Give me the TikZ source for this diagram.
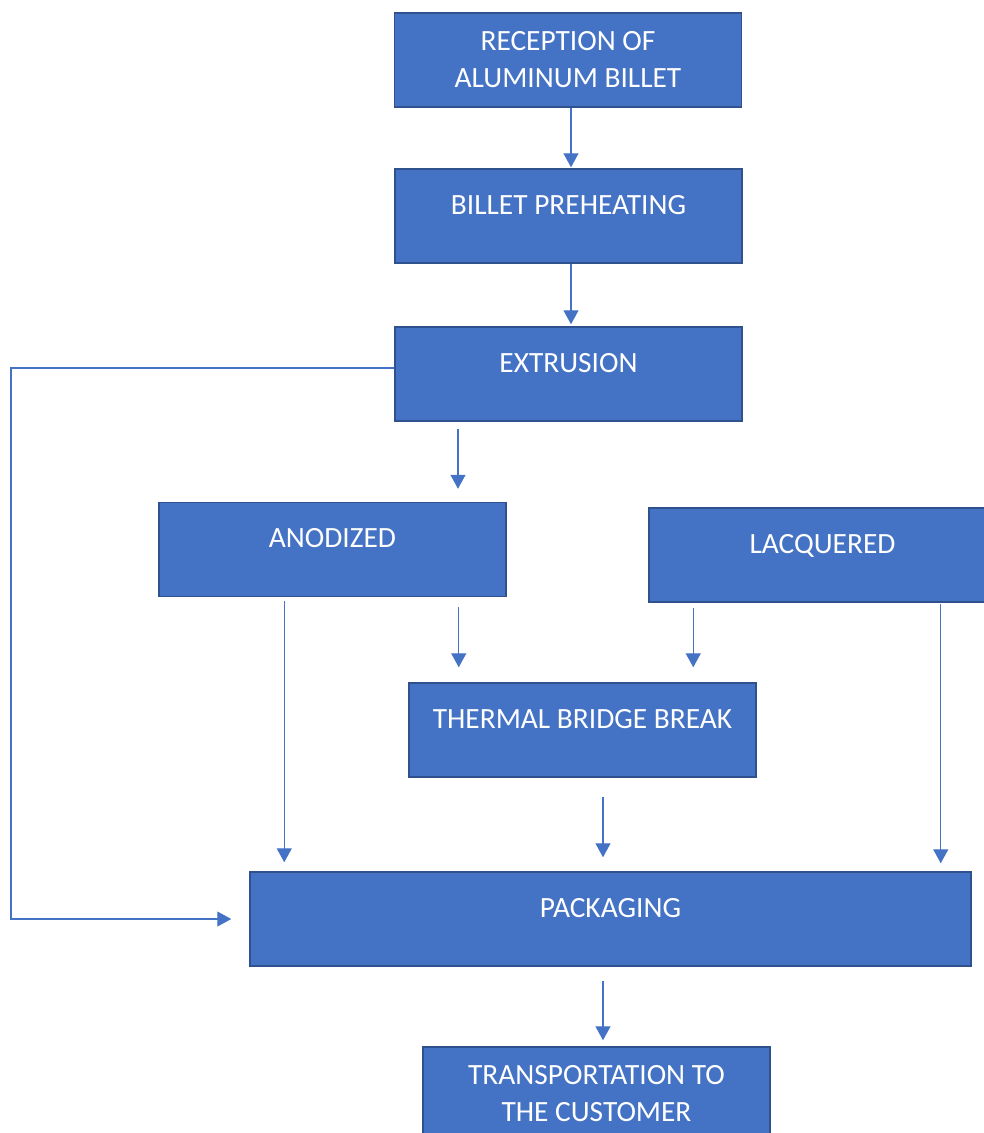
\documentclass[tikz,border=0pt]{standalone}
\usepackage{fontspec}
\setmainfont{Carlito}
\usetikzlibrary{arrows.meta}
\definecolor{boxblue}{HTML}{4472C4}
\definecolor{boxedge}{HTML}{2F528F}
\tikzset{
	procbox/.style={
		rectangle,
		draw=boxedge,
		line width=1.5pt,
		fill=boxblue,
		text=white,
		minimum width=347pt,
		minimum height=94pt,
		align=center,
		font=\fontsize{29.4}{37}\selectfont
	},
	onebox/.style={
		procbox,
		text height=20pt,
		text depth=24pt
	},
	arr/.style={
		draw=boxblue,
		line width=1.4pt,
		-{Triangle[width=15pt,length=14pt]}
	}
}
\begin{document}
\begin{tikzpicture}[x=1pt,y=-1pt]
	\useasboundingbox (0,0) rectangle (984,1133);
	\node[procbox] (rec) at (568,60) {RECEPTION OF\\ALUMINUM BILLET};
	\node[onebox] (pre) at (568.5,216) {BILLET PREHEATING};
	\node[onebox] (ext) at (568.5,374) {EXTRUSION};
	\node[onebox] (anod) at (332.5,549.5) {ANODIZED};
	\node[onebox] (lacq) at (822.5,555) {LACQUERED};
	\node[onebox] (therm) at (582.5,730) {THERMAL BRIDGE BREAK};
	\node[onebox, minimum width=721pt] (pack) at (610.5,919) {PACKAGING};
	\node[procbox] (trans) at (596.5,1094) {TRANSPORTATION TO\\THE CUSTOMER};

	\draw[arr, shorten >=1pt] ([xshift=3pt]rec.south) -- ([xshift=3pt]rec.south |- pre.north);
	\draw[arr, shorten >=2pt] ([xshift=2.5pt]pre.south) -- ([xshift=2.5pt]pre.south |- ext.north);
	\draw[arr, shorten <=7pt, shorten >=13pt] ([xshift=-110.5pt]ext.south) -- ([xshift=-110.5pt]ext.south |- anod.north);
	\draw[arr, shorten <=10pt, shorten >=15pt] ([xshift=-48pt]anod.south east) -- ([xshift=-48pt]anod.south east |- therm.north);
	\draw[arr, shorten <=5pt, shorten >=15pt] ([xshift=45pt]lacq.south west) -- ([xshift=45pt]lacq.south west |- therm.north);
	\draw[arr, shorten <=4pt, shorten >=9pt] ([xshift=126pt]anod.south west) -- ([xshift=126pt]anod.south west |- pack.north);
	\draw[arr, shorten <=19pt, shorten >=14pt] ([xshift=20.5pt]therm.south) -- ([xshift=20.5pt]therm.south |- pack.north);
	\draw[arr, shorten <=1pt, shorten >=8pt] ([xshift=-56pt]lacq.south east) -- ([xshift=-56pt]lacq.south east |- pack.north);
	\draw[arr, shorten <=14pt, shorten >=6pt] ([xshift=-7.5pt]pack.south) -- ([xshift=-7.5pt]pack.south |- trans.north);
	% extrusion straight to packaging
	\draw[arr, line width=1.1pt, shorten >=18pt] ([yshift=6pt]ext.west) -| (11,919) -- (pack.west);
\end{tikzpicture}
\end{document}
